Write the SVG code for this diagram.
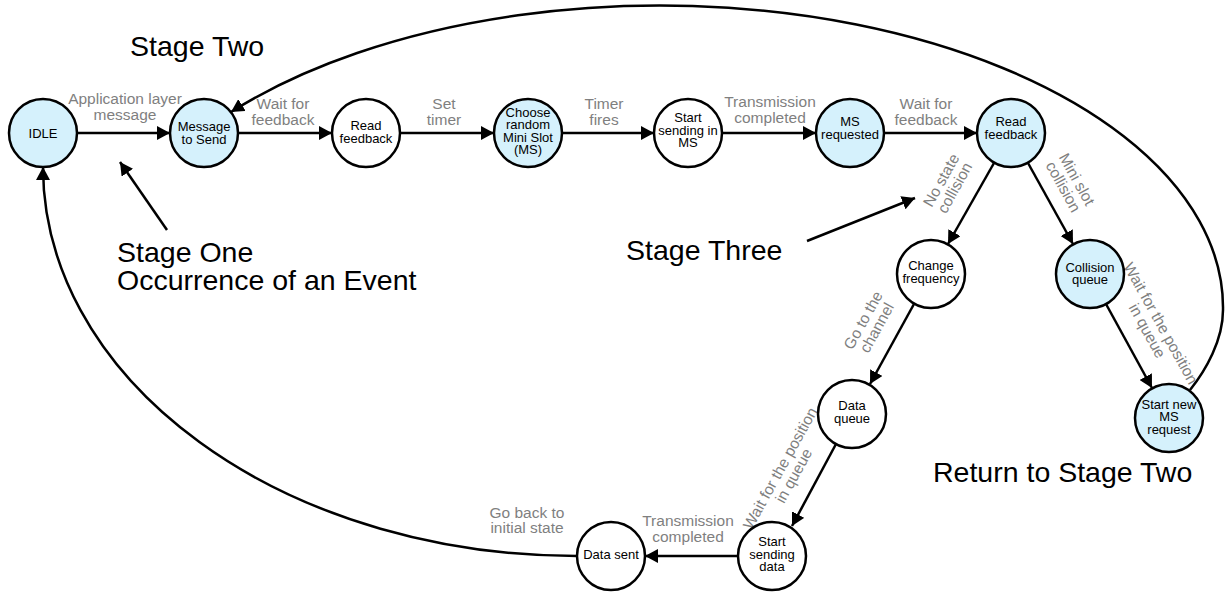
<svg xmlns="http://www.w3.org/2000/svg" width="1225" height="593" viewBox="0 0 1225 593">
  <defs>
    <marker id="arrow" markerUnits="userSpaceOnUse" markerWidth="14" markerHeight="14" refX="13" refY="7" orient="auto">
      <path d="M0,0 L13,7 L0,14 Z" fill="#000"/>
    </marker>
    <style>
      .state circle { stroke: #000; stroke-width: 2.5; }
      .blue circle { fill: #d5f1fc; }
      .white circle { fill: #fff; }
      .state text { font-family: "Liberation Sans", Arial, sans-serif; font-size: 13px; fill: #000; text-anchor: middle; }
      .edge { fill: none; stroke: #000; stroke-width: 2.5; marker-end: url(#arrow); }
      .lbl { font-family: "Liberation Sans", Arial, sans-serif; font-size: 15.5px; fill: #7f7f7f; text-anchor: middle; }
      .stage { font-family: "Liberation Sans", Arial, sans-serif; font-size: 28.5px; fill: #000; }
    </style>
  </defs>

  <rect width="1225" height="593" fill="#fff"/>

  <!-- connectors -->
  <g id="connectors">
    <line class="edge" x1="77" y1="133" x2="170" y2="133"/>
    <line class="edge" x1="238" y1="133" x2="332" y2="133"/>
    <line class="edge" x1="400" y1="133" x2="494" y2="133"/>
    <line class="edge" x1="562" y1="133" x2="654" y2="133"/>
    <line class="edge" x1="722" y1="133" x2="816" y2="133"/>
    <line class="edge" x1="884" y1="133" x2="977" y2="133"/>
    <line class="edge" x1="994" y1="163" x2="948" y2="244"/>
    <line class="edge" x1="1028" y1="163" x2="1073" y2="244"/>
    <line class="edge" x1="914" y1="304" x2="870" y2="384"/>
    <line class="edge" x1="1106" y1="304" x2="1152" y2="388"/>
    <line class="edge" x1="836" y1="444" x2="792" y2="526"/>
    <line class="edge" x1="738" y1="556" x2="645" y2="556"/>
    <!-- return to IDLE -->
    <path class="edge" d="M577,556 A534,389 0 0 1 43,167"/>
    <!-- return to Message to Send -->
    <path class="edge" d="M1190,390 C1206,370 1223,340 1223,310 A563,302 0 0 0 231,112"/>
    <!-- stage pointers -->
    <line class="edge" x1="167" y1="230" x2="120" y2="162"/>
    <line class="edge" x1="807" y1="241" x2="915" y2="198"/>
  </g>

  <!-- connector labels -->
  <g id="edge-labels">
    <text class="lbl" x="125" y="104">Application layer</text>
    <text class="lbl" x="125" y="120">message</text>
    <text class="lbl" x="283" y="109">Wait for</text>
    <text class="lbl" x="283" y="125">feedback</text>
    <text class="lbl" x="444" y="109">Set</text>
    <text class="lbl" x="444" y="125">timer</text>
    <text class="lbl" x="604" y="109">Timer</text>
    <text class="lbl" x="604" y="125">fires</text>
    <text class="lbl" x="770" y="107">Transmission</text>
    <text class="lbl" x="770" y="123">completed</text>
    <text class="lbl" x="926" y="109">Wait for</text>
    <text class="lbl" x="926" y="125">feedback</text>
    <g transform="translate(948,184) rotate(-61)">
      <text class="lbl" x="0" y="-2.5">No state</text>
      <text class="lbl" x="0" y="13">collision</text>
    </g>
    <g transform="translate(1070,183) rotate(61)">
      <text class="lbl" x="0" y="-2.5">Mini slot</text>
      <text class="lbl" x="0" y="13">collision</text>
    </g>
    <g transform="translate(870,324) rotate(-61)">
      <text class="lbl" x="0" y="-2.5">Go to the</text>
      <text class="lbl" x="0" y="13">channel</text>
    </g>
    <g transform="translate(787,472) rotate(-61)">
      <text class="lbl" x="0" y="-2.5">Wait for the position</text>
      <text class="lbl" x="0" y="13">in queue</text>
    </g>
    <g transform="translate(1154,327) rotate(61)">
      <text class="lbl" x="0" y="-2.5">Wait for the position</text>
      <text class="lbl" x="0" y="13">in queue</text>
    </g>
    <text class="lbl" x="688" y="526">Transmission</text>
    <text class="lbl" x="688" y="542">completed</text>
    <text class="lbl" x="527" y="518">Go back to</text>
    <text class="lbl" x="527" y="533">initial state</text>
  </g>

  <!-- states -->
  <g id="idle" class="state blue">
    <circle cx="43" cy="133" r="34"/>
    <text x="43" y="137.5">IDLE</text>
  </g>
  <g id="message-to-send" class="state blue">
    <circle cx="204" cy="133" r="34"/>
    <text x="204" y="131">Message</text>
    <text x="204" y="143.5">to Send</text>
  </g>
  <g id="read-feedback-1" class="state white">
    <circle cx="366" cy="133" r="34"/>
    <text x="366" y="130">Read</text>
    <text x="366" y="142.5">feedback</text>
  </g>
  <g id="choose-mini-slot" class="state blue">
    <circle cx="528" cy="133" r="34"/>
    <text x="528" y="116.5">Choose</text>
    <text x="528" y="129">random</text>
    <text x="528" y="141.5">Mini Slot</text>
    <text x="528" y="154">(MS)</text>
  </g>
  <g id="start-sending-ms" class="state white">
    <circle cx="688" cy="133" r="34"/>
    <text x="688" y="122">Start</text>
    <text x="688" y="134.5">sending in</text>
    <text x="688" y="147">MS</text>
  </g>
  <g id="ms-requested" class="state blue">
    <circle cx="850" cy="133" r="34"/>
    <text x="850" y="126">MS</text>
    <text x="850" y="138.5">requested</text>
  </g>
  <g id="read-feedback-2" class="state blue">
    <circle cx="1011" cy="133" r="34"/>
    <text x="1011" y="126">Read</text>
    <text x="1011" y="139">feedback</text>
  </g>
  <g id="change-frequency" class="state white">
    <circle cx="931" cy="274" r="34"/>
    <text x="931" y="270">Change</text>
    <text x="931" y="282.5">frequency</text>
  </g>
  <g id="collision-queue" class="state blue">
    <circle cx="1090" cy="274" r="34"/>
    <text x="1090" y="271.5">Collision</text>
    <text x="1090" y="284">queue</text>
  </g>
  <g id="data-queue" class="state white">
    <circle cx="852" cy="414" r="34"/>
    <text x="852" y="410">Data</text>
    <text x="852" y="422.5">queue</text>
  </g>
  <g id="start-new-ms-request" class="state blue">
    <circle cx="1169" cy="418" r="34"/>
    <text x="1169" y="408.5">Start new</text>
    <text x="1169" y="421">MS</text>
    <text x="1169" y="433.5">request</text>
  </g>
  <g id="start-sending-data" class="state white">
    <circle cx="772" cy="556" r="34"/>
    <text x="772" y="546">Start</text>
    <text x="772" y="558.5">sending</text>
    <text x="772" y="571">data</text>
  </g>
  <g id="data-sent" class="state white">
    <circle cx="611" cy="556" r="34"/>
    <text x="611" y="559">Data sent</text>
  </g>

  <!-- stage captions -->
  <g id="stage-captions">
    <text class="stage" x="130" y="56">Stage Two</text>
    <text class="stage" x="117" y="262">Stage One</text>
    <text class="stage" x="117" y="290">Occurrence of an Event</text>
    <text class="stage" x="626" y="260">Stage Three</text>
    <text class="stage" x="933" y="482">Return to Stage Two</text>
  </g>
</svg>
